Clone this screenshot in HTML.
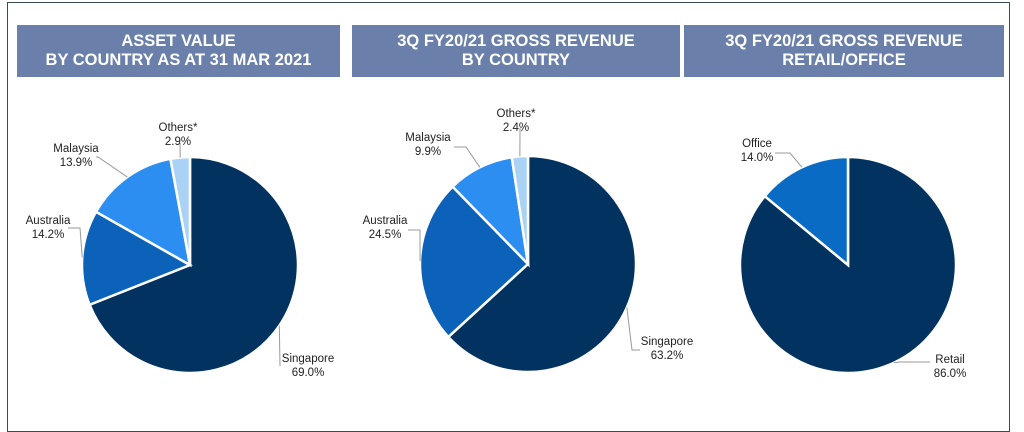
<!DOCTYPE html>
<html><head><meta charset="utf-8"><style>
body{margin:0;width:1024px;height:418px;background:#fff;font-family:"Liberation Sans",sans-serif;overflow:hidden;position:relative}
.frame{position:absolute;left:7px;top:2px;width:1003px;height:430px;border:1px solid #3a4a5e;box-sizing:border-box}
.title{position:absolute;top:25px;height:52px;background:#6a80aa;color:#fff;font-weight:bold;font-size:16.5px;line-height:19px;text-align:center;display:flex;align-items:center;justify-content:center}
svg{position:absolute;left:0;top:0}
svg text{font-family:"Liberation Sans",sans-serif;font-size:11.5px;fill:#222;text-anchor:middle}
</style></head><body>
<div class="frame"></div>
<div class="title" style="left:17px;width:323px">ASSET VALUE<br>BY COUNTRY AS AT 31 MAR 2021</div>
<div class="title" style="left:352px;width:328px">3Q FY20/21 GROSS REVENUE<br>BY COUNTRY</div>
<div class="title" style="left:684px;width:320px">3Q FY20/21 GROSS REVENUE<br>RETAIL/OFFICE</div>
<svg id="chart" width="1024" height="418"></svg>
<script>
const chart1Labels=["Singapore","Australia","Malaysia","Others*"];
const chart1Values=[69.0,14.2,13.9,2.9];
const chart2Labels=["Singapore","Australia","Malaysia","Others*"];
const chart2Values=[63.2,24.5,9.9,2.4];
const chart3Labels=["Retail","Office"];
const chart3Values=[86.0,14.0];
const colorsCountry=["#02325f","#0b62b8","#2b8ef0","#aad2f4"];
const colorsRO=["#02325f","#0a6bc4"];
const NS="http://www.w3.org/2000/svg";
const svg=document.getElementById('chart');
function mk(t,a){const e=document.createElementNS(NS,t);for(const k in a)e.setAttribute(k,a[k]);svg.appendChild(e);return e;}
function pie(cx,cy,r,labels,values,colors,labelPos,prefix){
  const total=values.reduce((a,b)=>a+b,0);
  let a0=0;
  values.forEach((v,i)=>{
    const a1=a0+v/total*2*Math.PI;
    const x0=cx+r*Math.sin(a0),y0=cy-r*Math.cos(a0),x1=cx+r*Math.sin(a1),y1=cy-r*Math.cos(a1);
    const large=(a1-a0)>Math.PI?1:0;
    const p=mk('path',{d:`M${cx},${cy} L${x0},${y0} A${r},${r} 0 ${large} 1 ${x1},${y1} Z`,fill:colors[i],stroke:'#fff','stroke-width':2.5});
    
    
    const am=(a0+a1)/2;
    const ex=cx+r*Math.sin(am),ey=cy-r*Math.cos(am);
    const lp=labelPos[i];
    const ln=mk('polyline',{points:`${ex},${ey} ${lp[2]},${lp[3]} ${lp[4]},${lp[3]}`,fill:'none',stroke:'#999','stroke-width':1});
    
    
    const t1=mk('text',{x:lp[0],y:lp[1]});t1.textContent=labels[i];
    
    
    const t2=mk('text',{x:lp[0],y:lp[1]+14});t2.textContent=v.toFixed(1)+'%';
    
    
    a0=a1;
  });
}
pie(190,265,108,chart1Labels,chart1Values,colorsCountry,[[308,362,280,366,280],[48,224,80,228,68],[76,152,98,157,96],[178,131,180,143,180]],'asset');
pie(528,264,108,chart2Labels,chart2Values,colorsCountry,[[667,345,632,350,640],[385,224,420,230,408],[428,141,466,147,454],[516,117,520,128,520]],'revenue-country');
pie(848,265,108,chart3Labels,chart3Values,colorsRO,[[950,363,900,362,930],[757,147,790,153,775]],'revenue-ro');
</script>
</body></html>
